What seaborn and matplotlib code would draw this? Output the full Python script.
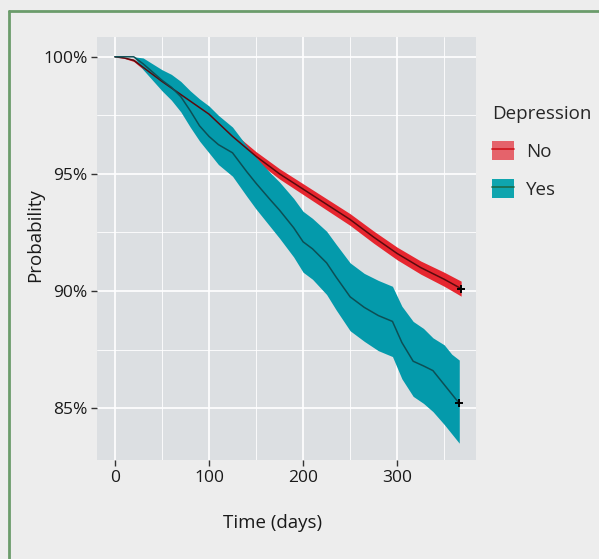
import numpy as np
import pandas as pd
import matplotlib
matplotlib.use('Agg')
import matplotlib.pyplot as plt
import seaborn as sns
from matplotlib.patches import Patch
from matplotlib.lines import Line2D
from matplotlib.ticker import MultipleLocator

# Kaplan-Meier estimates (percent)
t_no = [0, 10, 20, 35, 50, 75, 100, 125, 150, 175, 200, 225, 250, 275, 300, 325, 350, 368]
surv_no = [100, 99.95, 99.85, 99.4, 98.95, 98.25, 97.55, 96.6, 95.75, 95.0, 94.35, 93.7, 93.05, 92.3, 91.6, 91.0, 90.5, 90.1]
upper_no = [100, 99.97, 99.9, 99.5, 99.07, 98.4, 97.72, 96.79, 95.95, 95.22, 94.58, 93.94, 93.3, 92.56, 91.87, 91.28, 90.8, 90.42]
lower_no = [100, 99.93, 99.8, 99.3, 98.83, 98.1, 97.38, 96.41, 95.55, 94.78, 94.12, 93.46, 92.8, 92.04, 91.33, 90.72, 90.2, 89.78]

t_yes = [0, 20, 30, 40, 50, 60, 70, 80, 90, 100, 110, 125, 140, 150, 165, 175, 190, 200,
         210, 225, 235, 250, 265, 280, 295, 305, 317, 328, 338, 350, 358, 366]
surv_yes = [100, 100, 99.7, 99.35, 99.0, 98.7, 98.3, 97.7, 97.05, 96.6, 96.25, 95.9, 95.1, 94.6, 93.9, 93.45,
            92.7, 92.1, 91.8, 91.2, 90.6, 89.75, 89.3, 88.95, 88.7, 87.8, 87.0, 86.8, 86.6, 86.0, 85.6, 85.2]
upper_yes = [100, 100, 99.95, 99.7, 99.45, 99.25, 98.95, 98.55, 98.2, 97.9, 97.5, 97.0, 96.2, 95.7, 95.05, 94.65,
             93.95, 93.4, 93.1, 92.55, 92.0, 91.2, 90.75, 90.45, 90.2, 89.35, 88.7, 88.4, 88.0, 87.7, 87.3, 87.05]
lower_yes = [100, 100, 99.45, 99.0, 98.55, 98.15, 97.65, 97.0, 96.4, 95.9, 95.4, 94.9, 94.05, 93.5, 92.75, 92.25,
             91.45, 90.8, 90.5, 89.85, 89.2, 88.3, 87.85, 87.45, 87.2, 86.25, 85.5, 85.2, 84.85, 84.3, 83.9, 83.5]

groups = ['No', 'Yes']
band_colors = {'No': '#e6262f', 'Yes': '#049aab'}
line_colors = {'No': '#5a0a0e', 'Yes': '#0d4f55'}
key_colors = {'No': '#e5636b', 'Yes': '#0fa5ae'}
key_lines = {'No': '#d0141c', 'Yes': '#1d6b4a'}

df = pd.concat([
    pd.DataFrame({'time': t_no, 'surv': surv_no, 'Depression': 'No'}),
    pd.DataFrame({'time': t_yes, 'surv': surv_yes, 'Depression': 'Yes'}),
])

sns.set_theme(style='darkgrid', rc={
    'axes.facecolor': '#dcdfe2',
    'figure.facecolor': '#ededed',
    'grid.color': 'white',
})
plt.rcParams['font.family'] = ['Open Sans', 'DejaVu Sans']

fig = plt.figure(figsize=(5.99, 5.59), dpi=100)
ax = fig.add_axes([0.162, 0.177, 0.633, 0.757])

ax.fill_between(t_no, lower_no, upper_no, color=band_colors['No'], lw=0, zorder=2)
ax.fill_between(t_yes, lower_yes, upper_yes, color=band_colors['Yes'], lw=0, zorder=3)
sns.lineplot(data=df, x='time', y='surv', hue='Depression', palette=line_colors,
             estimator=None, legend=False, lw=1.1, ax=ax, zorder=4)
ax.plot([t_no[-1], t_yes[-1]], [surv_no[-1], surv_yes[-1]], ls='none', marker='+',
        color='black', ms=6, mew=1.4, zorder=6)

ax.set_xlim(-19, 384)
ax.set_ylim(82.78, 100.85)
ax.set_xticks([0, 100, 200, 300])
ax.set_yticks([85, 90, 95, 100])
ax.set_yticklabels(['85%', '90%', '95%', '100%'])
ax.xaxis.set_minor_locator(MultipleLocator(50))
ax.yaxis.set_minor_locator(MultipleLocator(2.5))
ax.grid(which='major', color='white', lw=1.2)
ax.grid(which='minor', color='white', lw=0.6)
ax.tick_params(which='major', length=4, width=1, color='#333333', labelsize=12.5,
               labelcolor='#1a1a1a', pad=3, bottom=True, left=True)
ax.tick_params(which='minor', length=0)
for s in ax.spines.values():
    s.set_visible(False)

ax.set_xlabel('Time (days)', fontsize=13.5, color='#1a1a1a')
ax.set_ylabel('Probability', fontsize=13.5, color='#1a1a1a')
ax.xaxis.set_label_coords(0.464, -0.128)
ax.yaxis.set_label_coords(-0.14, 0.532)

handles = [(Patch(facecolor=key_colors[g], edgecolor='none'),
            Line2D([], [], color=key_lines[g], lw=1.2)) for g in groups]
leg = fig.legend(handles, groups, title='Depression', loc='upper left',
                 bbox_to_anchor=(0.793, 0.842), frameon=False, fontsize=13.5,
                 title_fontsize=13.5, handlelength=1.2, handleheight=1.2,
                 labelspacing=0.95, handletextpad=0.6)
leg._legend_box.align = 'left'

# green frame around the figure
fig.add_artist(Line2D([9 / 599, 1], [1 - 11 / 559, 1 - 11 / 559], color='#6b9c6b', lw=2))
fig.add_artist(Line2D([9 / 599, 9 / 599], [0, 1 - 11 / 559], color='#6b9c6b', lw=2))

fig.savefig('out.png', dpi=100)
